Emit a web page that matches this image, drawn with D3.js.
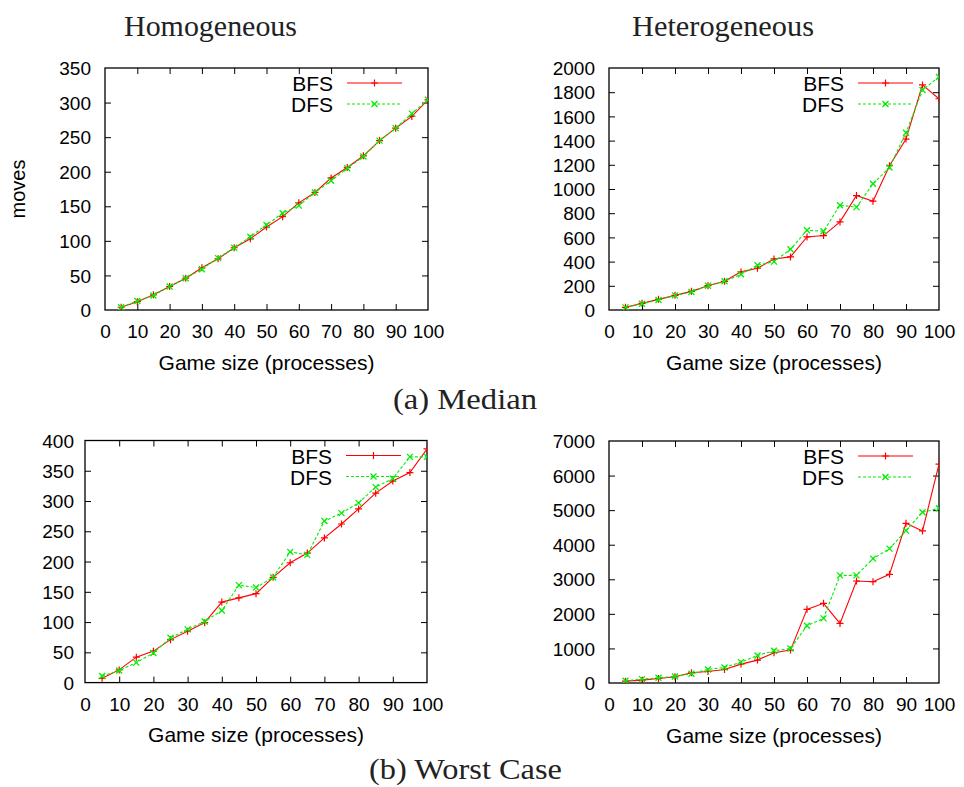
<!DOCTYPE html>
<html>
<head>
<meta charset="utf-8">
<script src="https://cdn.jsdelivr.net/npm/d3@7"></script>
<style>
  html, body { margin: 0; padding: 0; background: #fff; }
  svg { display: block; }
  .tick-label { font-family: "Liberation Sans", Arial, sans-serif; font-size: 19px; fill: #000; }
  .axis-label { font-family: "Liberation Sans", Arial, sans-serif; font-size: 21px; fill: #000; }
  .legend-label { font-family: "Liberation Sans", Arial, sans-serif; font-size: 21px; fill: #000; }
  .title { font-family: "Liberation Serif", "Times New Roman", serif; font-size: 29px; fill: #222; }
</style>
</head>
<body>
<svg id="chart" width="964" height="787"></svg>
<script>
// Game sizes (number of processes) on the x axis
const gameSizes = [5, 10, 15, 20, 25, 30, 35, 40, 45, 50, 55, 60, 65, 70, 75, 80, 85, 90, 95, 100];
const xTickValues = [0, 10, 20, 30, 40, 50, 60, 70, 80, 90, 100];

// Median number of moves
const medianHomBFS = [4, 12, 22, 34, 46, 61, 74, 90, 103, 120, 135, 155, 170, 191, 206, 223, 245, 263, 280, 304];
const medianHomDFS = [4, 13, 21, 34, 46, 59, 75, 90, 106, 123, 140, 151, 170, 187, 205, 222, 245, 263, 284, 304];
const medianHetBFS = [22, 55, 88, 121, 154, 201, 237, 315, 345, 422, 439, 604, 615, 728, 946, 899, 1192, 1413, 1860, 1746];
const medianHetDFS = [22, 52, 83, 121, 149, 201, 237, 295, 370, 400, 502, 659, 651, 866, 850, 1043, 1178, 1465, 1818, 1926];

// Worst-case number of moves
const worstHomBFS = [7, 21, 42, 52, 71, 85, 99, 133, 140, 147, 174, 198, 214, 239, 262, 287, 313, 333, 347, 386];
const worstHomDFS = [11, 20, 33, 49, 74, 88, 101, 119, 161, 157, 174, 216, 211, 267, 280, 297, 323, 337, 373, 373];
const worstHetBFS = [54, 83, 131, 180, 295, 334, 392, 546, 662, 875, 952, 2130, 2304, 1724, 2950, 2930, 3143, 4620, 4398, 6329];
const worstHetDFS = [64, 112, 150, 189, 266, 392, 450, 604, 797, 932, 1000, 1656, 1869, 3114, 3114, 3597, 3886, 4407, 4938, 5054];

// Y tick values per panel
const yTicksMedianHom = [0, 50, 100, 150, 200, 250, 300, 350];
const yTicksMedianHet = [0, 200, 400, 600, 800, 1000, 1200, 1400, 1600, 1800, 2000];
const yTicksWorstHom = [0, 50, 100, 150, 200, 250, 300, 350, 400];
const yTicksWorstHet = [0, 1000, 2000, 3000, 4000, 5000, 6000, 7000];

const seriesNames = ["BFS", "DFS"];
const seriesColors = ["#ff0000", "#00ee00"];

const svg = d3.select("#chart");

const panels = [
  { left: 105, right: 428, top: 68, bottom: 310, yTicks: yTicksMedianHom, bfs: medianHomBFS, dfs: medianHomDFS, yLabel: "moves", labelGap: 14 },
  { left: 609, right: 939, top: 68, bottom: 310, yTicks: yTicksMedianHet, bfs: medianHetBFS, dfs: medianHetDFS, labelGap: 14 },
  { left: 85, right: 427, top: 440.5, bottom: 682.6, yTicks: yTicksWorstHom, bfs: worstHomBFS, dfs: worstHomDFS, labelGap: 11 },
  { left: 609, right: 939, top: 441, bottom: 683, yTicks: yTicksWorstHet, bfs: worstHetBFS, dfs: worstHetDFS, labelGap: 14 }
];

const tickLen = 6;

function drawMarker(g, kind, cx, cy, color) {
  const s = kind === 0 ? 3.5 : 3;
  const path = kind === 0
    ? `M${cx - s},${cy}H${cx + s}M${cx},${cy - s}V${cy + s}`
    : `M${cx - s},${cy - s}L${cx + s},${cy + s}M${cx - s},${cy + s}L${cx + s},${cy - s}`;
  g.append("path").attr("d", path).attr("stroke", color)
    .attr("stroke-width", kind === 0 ? 1.2 : 1.3).attr("fill", "none");
}

panels.forEach(p => {
  const x = d3.scaleLinear().domain([0, 100]).range([p.left, p.right]);
  const yMax = p.yTicks[p.yTicks.length - 1];
  const y = d3.scaleLinear().domain([0, yMax]).range([p.bottom, p.top]);
  const g = svg.append("g");

  // Clip to the plot frame
  const clipId = "clip" + Math.round(p.left) + "_" + Math.round(p.top);
  svg.append("clipPath").attr("id", clipId)
    .append("rect").attr("x", p.left).attr("y", p.top)
    .attr("width", p.right - p.left).attr("height", p.bottom - p.top);

  // Inward ticks on all four sides via d3 axes
  const axB = d3.axisBottom(x).tickValues(xTickValues).tickSizeInner(-tickLen).tickSizeOuter(0).tickFormat(d3.format("d"));
  const axT = d3.axisTop(x).tickValues(xTickValues.slice(1, -1)).tickSizeInner(-tickLen).tickSizeOuter(0).tickFormat("");
  const axL = d3.axisLeft(y).tickValues(p.yTicks).tickSizeInner(-tickLen).tickSizeOuter(0).tickFormat(d3.format("d"));
  const axR = d3.axisRight(y).tickValues(p.yTicks.slice(1, -1)).tickSizeInner(-tickLen).tickSizeOuter(0).tickFormat("");

  const gb = g.append("g").attr("transform", `translate(0,${p.bottom})`).call(axB);
  gb.selectAll("text").attr("class", "tick-label").attr("y", 15).attr("dy", "0.71em");
  const gt = g.append("g").attr("transform", `translate(0,${p.top})`).call(axT);
  const gl = g.append("g").attr("transform", `translate(${p.left},0)`).call(axL);
  gl.selectAll("text").attr("class", "tick-label").attr("x", -p.labelGap).attr("dy", "0.35em");
  const gr = g.append("g").attr("transform", `translate(${p.right},0)`).call(axR);

  [gb, gt, gl, gr].forEach(a => {
    a.attr("font-size", null).attr("font-family", null);
    a.select(".domain").remove();
    a.selectAll(".tick line").attr("stroke", "#000").attr("stroke-width", 1);
  });
  // Edge ticks on bottom/left at 0 and max sit on the frame; drop them
  gb.selectAll(".tick").filter(d => d === 0 || d === 100).select("line").remove();
  gl.selectAll(".tick").filter(d => d === 0 || d === yMax).select("line").remove();

  // Frame
  g.append("rect").attr("x", p.left).attr("y", p.top)
    .attr("width", p.right - p.left).attr("height", p.bottom - p.top)
    .attr("fill", "none").attr("stroke", "#000").attr("stroke-width", 1.3);

  // X axis title
  g.append("text").attr("class", "axis-label")
    .attr("x", (p.left + p.right) / 2).attr("y", p.bottom + 59.5)
    .attr("text-anchor", "middle").text("Game size (processes)");

  if (p.yLabel) {
    g.append("text").attr("class", "axis-label").style("font-size", "20px")
      .attr("transform", `translate(${25},${(p.top + p.bottom) / 2}) rotate(-90)`)
      .attr("text-anchor", "middle").text(p.yLabel);
  }

  // Series
  const plotG = g.append("g").attr("clip-path", `url(#${clipId})`);
  [p.bfs, p.dfs].forEach((vals, si) => {
    const pts = gameSizes.map((gs, i) => [x(gs), y(vals[i])]);
    plotG.append("path")
      .attr("d", d3.line()(pts))
      .attr("fill", "none").attr("stroke", seriesColors[si])
      .attr("stroke-width", 1.1)
      .attr("stroke-dasharray", si === 1 ? "3,2" : null);
    pts.forEach(pt => drawMarker(plotG, si, pt[0], pt[1], seriesColors[si]));
  });

  // Legend
  seriesNames.forEach((name, si) => {
    const ly = p.top + 15 + si * 21;
    g.append("text").attr("class", "legend-label")
      .attr("x", p.right - 95).attr("y", ly + 8)
      .attr("text-anchor", "end").text(name);
    g.append("line").attr("x1", p.right - 81).attr("x2", p.right - 26)
      .attr("y1", ly).attr("y2", ly)
      .attr("stroke", seriesColors[si]).attr("stroke-width", 1.1)
      .attr("stroke-dasharray", si === 1 ? "3,2" : null);
    drawMarker(g, si, p.right - 53.5, ly, seriesColors[si]);
  });
});

// Column titles and captions
svg.append("text").attr("class", "title").attr("x", 124).attr("y", 36)
  .attr("textLength", 173).attr("lengthAdjust", "spacingAndGlyphs").text("Homogeneous");
svg.append("text").attr("class", "title").attr("x", 632).attr("y", 36)
  .attr("textLength", 182).attr("lengthAdjust", "spacingAndGlyphs").text("Heterogeneous");
svg.append("text").attr("class", "title").attr("x", 393).attr("y", 409)
  .attr("textLength", 144).attr("lengthAdjust", "spacingAndGlyphs").text("(a) Median");
svg.append("text").attr("class", "title").attr("x", 369).attr("y", 779)
  .attr("textLength", 193).attr("lengthAdjust", "spacingAndGlyphs").text("(b) Worst Case");
</script>
</body>
</html>
